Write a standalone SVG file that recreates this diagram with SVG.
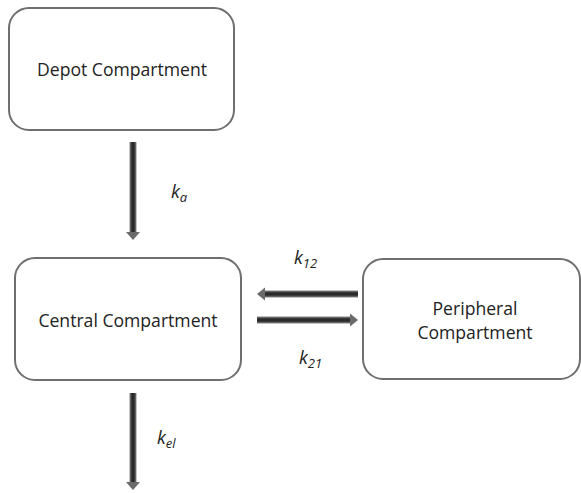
<svg xmlns="http://www.w3.org/2000/svg" width="581" height="493" viewBox="0 0 581 493">
<style>
.box{fill:#fff;stroke:#6f6f6f;stroke-width:2}
.t{font-family:"Open Sans","Liberation Sans",sans-serif;font-size:17.6px;fill:#222;text-anchor:middle}
.k{font-family:"Open Sans","Liberation Sans",sans-serif;font-size:18px;font-style:italic;fill:#222}
.s{font-size:13px}
.head{fill:#6a6a6a}
</style>
<defs>
<linearGradient id="gv" x1="0" y1="0" x2="1" y2="0">
<stop offset="0" stop-color="#8a8a8a"/><stop offset="0.35" stop-color="#2a2a2a"/><stop offset="0.65" stop-color="#2a2a2a"/><stop offset="1" stop-color="#8a8a8a"/>
</linearGradient>
<linearGradient id="gh" x1="0" y1="0" x2="0" y2="1">
<stop offset="0" stop-color="#8a8a8a"/><stop offset="0.35" stop-color="#2a2a2a"/><stop offset="0.65" stop-color="#2a2a2a"/><stop offset="1" stop-color="#8a8a8a"/>
</linearGradient>
</defs>
<g id="depot"><rect class="box" x="9" y="8" width="225" height="122" rx="20"/><text class="t" x="122" y="76">Depot Compartment</text></g>
<g id="central"><rect class="box" x="15" y="258" width="226" height="122" rx="20"/><text class="t" x="128" y="327">Central Compartment</text></g>
<g id="peripheral"><rect class="box" x="363" y="259" width="217" height="120" rx="20"/><text class="t" x="475" y="315">Peripheral</text><text class="t" x="475" y="339">Compartment</text></g>
<g id="connectors">
<rect x="129.5" y="142" width="7" height="91" fill="url(#gv)"/><polygon class="head" points="126,232 140,232 133,240"/>
<rect x="129.5" y="393" width="7" height="90" fill="url(#gv)"/><polygon class="head" points="126,482 140,482 133,490"/>
<rect x="265" y="290.5" width="93" height="7" fill="url(#gh)"/><polygon class="head" points="265,287.5 265,300.5 257,294"/>
<rect x="257" y="316.5" width="93" height="7" fill="url(#gh)"/><polygon class="head" points="350,313.5 350,326.5 358,320"/>
<text class="k" x="171" y="198">k<tspan class="s" dy="4">a</tspan></text>
<text class="k" x="294" y="264">k<tspan class="s" dy="4">12</tspan></text>
<text class="k" x="299" y="364">k<tspan class="s" dy="4">21</tspan></text>
<text class="k" x="157" y="444">k<tspan class="s" dy="4">el</tspan></text>
</g>
</svg>
